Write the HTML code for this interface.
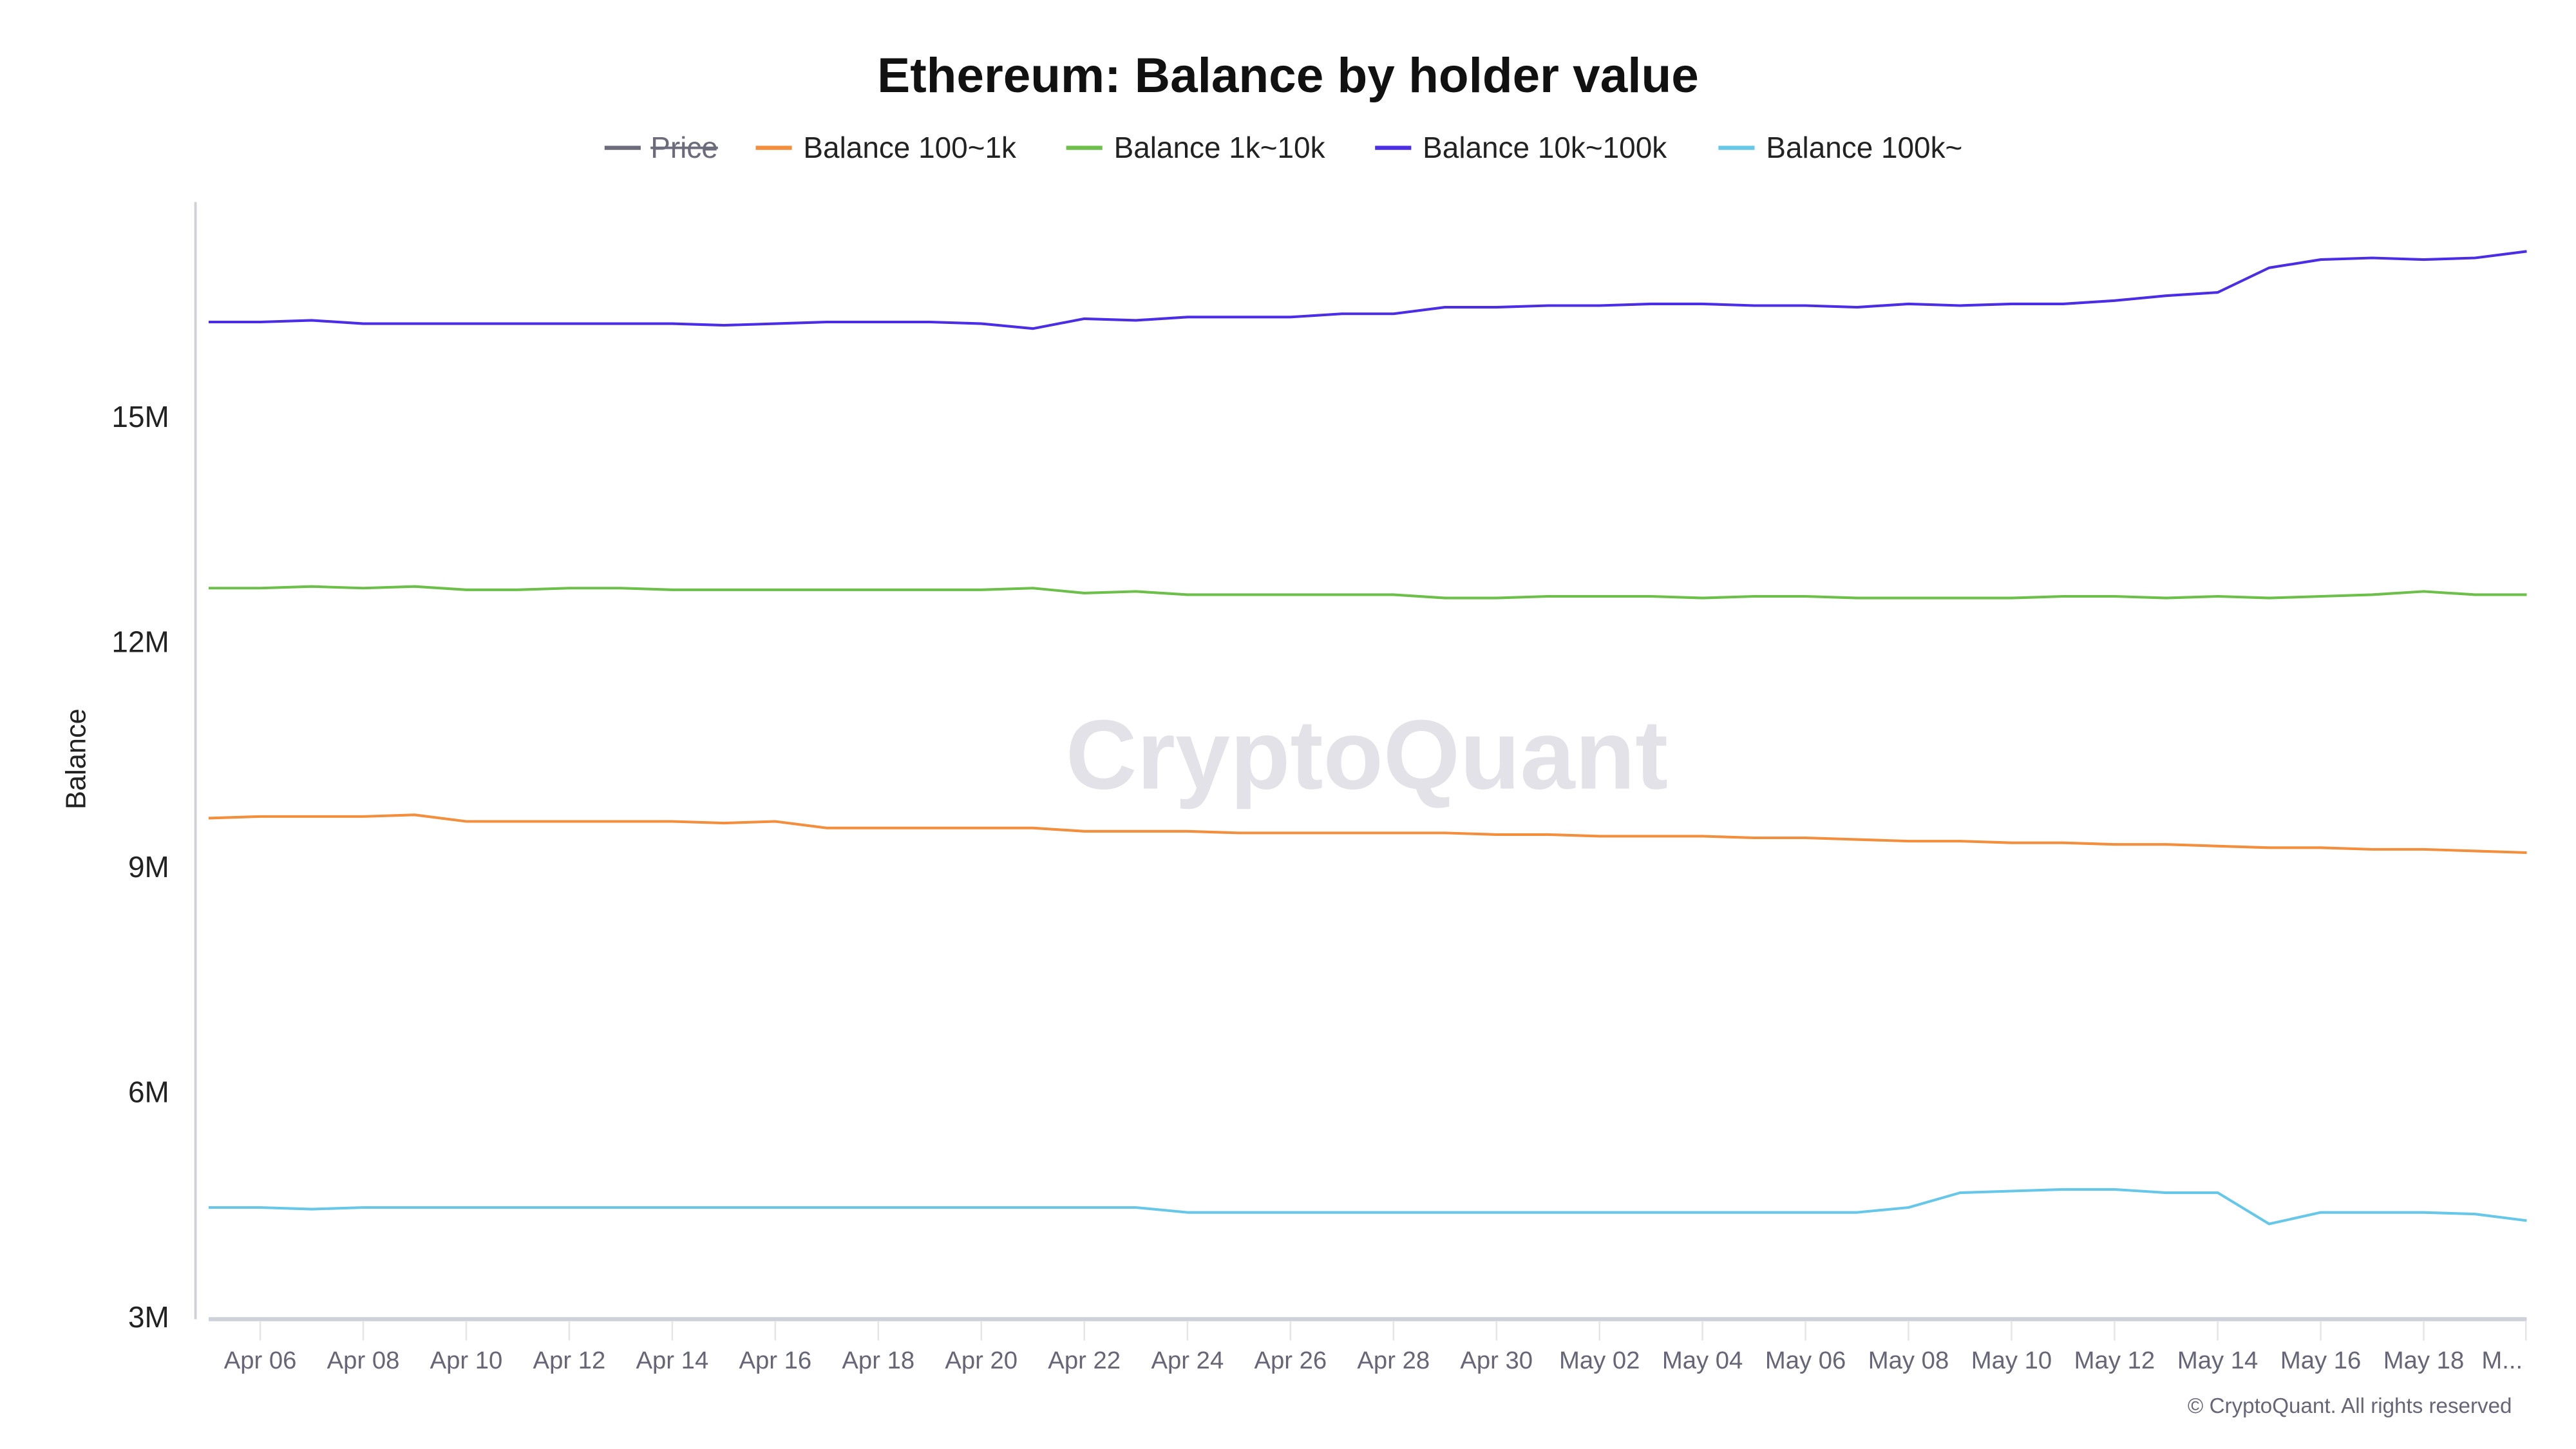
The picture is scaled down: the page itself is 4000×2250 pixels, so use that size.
<!DOCTYPE html>
<html><head><meta charset="utf-8"><style>
html,body{margin:0;padding:0;background:#fff;}
svg{display:block;}
</style></head><body>
<svg width="4000" height="2250" viewBox="0 0 1568 882" xmlns="http://www.w3.org/2000/svg" font-family="'Liberation Sans', sans-serif">
<rect width="1568" height="882" fill="#fff"/>
<text x="784" y="56" text-anchor="middle" font-size="30" font-weight="bold" fill="#111">Ethereum: Balance by holder value</text>
<g font-size="18" fill="#222">
<line x1="368" y1="90" x2="390" y2="90" stroke="#6b6b7b" stroke-width="2.5"/>
<text x="396" y="96" fill="#6b6b7b">Price</text><line x1="396" y1="90" x2="437" y2="90" stroke="#6b6b7b" stroke-width="1.5"/>
<line x1="460" y1="90" x2="482" y2="90" stroke="#f28e3c" stroke-width="2.5"/>
<text x="489" y="96">Balance 100~1k</text>
<line x1="649" y1="90" x2="671" y2="90" stroke="#6cc04a" stroke-width="2.5"/>
<text x="678" y="96">Balance 1k~10k</text>
<line x1="837" y1="90" x2="859" y2="90" stroke="#4b2de6" stroke-width="2.5"/>
<text x="866" y="96">Balance 10k~100k</text>
<line x1="1046" y1="90" x2="1068" y2="90" stroke="#66c7e8" stroke-width="2.5"/>
<text x="1075" y="96">Balance 100k~</text>
</g>
<text x="832" y="480" text-anchor="middle" font-size="60" fill="#e2e2e8" font-weight="bold">CryptoQuant</text>
<line x1="119" y1="123" x2="119" y2="803" stroke="#d0d0d8" stroke-width="1.5"/>
<line x1="127" y1="803" x2="1538" y2="803" stroke="#d0d0da" stroke-width="2.5"/>
<g font-size="18" fill="#222" text-anchor="end">
<text x="103" y="260">15M</text><text x="103" y="397">12M</text><text x="103" y="534">9M</text><text x="103" y="671">6M</text><text x="103" y="808">3M</text>
</g>
<text transform="translate(52,462) rotate(-90)" text-anchor="middle" font-size="17" fill="#222">Balance</text>
<g stroke="#e6e6ea" stroke-width="1">
<line x1="158.4" x2="158.4" y1="804" y2="816"/><line x1="221.1" x2="221.1" y1="804" y2="816"/><line x1="283.8" x2="283.8" y1="804" y2="816"/><line x1="346.5" x2="346.5" y1="804" y2="816"/><line x1="409.2" x2="409.2" y1="804" y2="816"/><line x1="471.9" x2="471.9" y1="804" y2="816"/><line x1="534.6" x2="534.6" y1="804" y2="816"/><line x1="597.3" x2="597.3" y1="804" y2="816"/><line x1="660" x2="660" y1="804" y2="816"/><line x1="722.8" x2="722.8" y1="804" y2="816"/><line x1="785.5" x2="785.5" y1="804" y2="816"/><line x1="848.2" x2="848.2" y1="804" y2="816"/><line x1="910.9" x2="910.9" y1="804" y2="816"/><line x1="973.6" x2="973.6" y1="804" y2="816"/><line x1="1036.3" x2="1036.3" y1="804" y2="816"/><line x1="1099" x2="1099" y1="804" y2="816"/><line x1="1161.7" x2="1161.7" y1="804" y2="816"/><line x1="1224.4" x2="1224.4" y1="804" y2="816"/><line x1="1287.1" x2="1287.1" y1="804" y2="816"/><line x1="1349.9" x2="1349.9" y1="804" y2="816"/><line x1="1412.6" x2="1412.6" y1="804" y2="816"/><line x1="1475.3" x2="1475.3" y1="804" y2="816"/><line x1="1537.5" x2="1537.5" y1="804" y2="816"/>
</g>
<g font-size="15" fill="#666677" text-anchor="middle">
<text x="158.4" y="833">Apr 06</text><text x="221.1" y="833">Apr 08</text><text x="283.8" y="833">Apr 10</text><text x="346.5" y="833">Apr 12</text><text x="409.2" y="833">Apr 14</text><text x="471.9" y="833">Apr 16</text><text x="534.6" y="833">Apr 18</text><text x="597.3" y="833">Apr 20</text><text x="660" y="833">Apr 22</text><text x="722.8" y="833">Apr 24</text><text x="785.5" y="833">Apr 26</text><text x="848.2" y="833">Apr 28</text><text x="910.9" y="833">Apr 30</text><text x="973.6" y="833">May 02</text><text x="1036.3" y="833">May 04</text><text x="1099" y="833">May 06</text><text x="1161.7" y="833">May 08</text><text x="1224.4" y="833">May 10</text><text x="1287.1" y="833">May 12</text><text x="1349.9" y="833">May 14</text><text x="1412.6" y="833">May 16</text><text x="1475.3" y="833">May 18</text><text x="1523" y="833">M...</text>
</g>
<text x="1529" y="860" text-anchor="end" font-size="13" fill="#666677">© CryptoQuant. All rights reserved</text>
<g fill="none" stroke-width="1.6" stroke-linejoin="round">
<polyline stroke="#4b2de6" points="127,196 158.4,196 189.7,195 221.1,197 252.4,197 283.8,197 315.1,197 346.5,197 377.8,197 409.2,197 440.6,198 471.9,197 503.3,196 534.6,196 566,196 597.3,197 628.7,200 660,194 691.4,195 722.8,193 754.1,193 785.5,193 816.8,191 848.2,191 879.5,187 910.9,187 942.2,186 973.6,186 1004.9,185 1036.3,185 1067.7,186 1099,186 1130.4,187 1161.7,185 1193.1,186 1224.4,185 1255.8,185 1287.1,183 1318.5,180 1349.9,178 1381.2,163 1412.6,158 1443.9,157 1475.3,158 1506.6,157 1538,153"/>
<polyline stroke="#6cc04a" points="127,358 158.4,358 189.7,357 221.1,358 252.4,357 283.8,359 315.1,359 346.5,358 377.8,358 409.2,359 440.6,359 471.9,359 503.3,359 534.6,359 566,359 597.3,359 628.7,358 660,361 691.4,360 722.8,362 754.1,362 785.5,362 816.8,362 848.2,362 879.5,364 910.9,364 942.2,363 973.6,363 1004.9,363 1036.3,364 1067.7,363 1099,363 1130.4,364 1161.7,364 1193.1,364 1224.4,364 1255.8,363 1287.1,363 1318.5,364 1349.9,363 1381.2,364 1412.6,363 1443.9,362 1475.3,360 1506.6,362 1538,362"/>
<polyline stroke="#f28e3c" points="127,498 158.4,497 189.7,497 221.1,497 252.4,496 283.8,500 315.1,500 346.5,500 377.8,500 409.2,500 440.6,501 471.9,500 503.3,504 534.6,504 566,504 597.3,504 628.7,504 660,506 691.4,506 722.8,506 754.1,507 785.5,507 816.8,507 848.2,507 879.5,507 910.9,508 942.2,508 973.6,509 1004.9,509 1036.3,509 1067.7,510 1099,510 1130.4,511 1161.7,512 1193.1,512 1224.4,513 1255.8,513 1287.1,514 1318.5,514 1349.9,515 1381.2,516 1412.6,516 1443.9,517 1475.3,517 1506.6,518 1538,519"/>
<polyline stroke="#66c7e8" points="127,735 158.4,735 189.7,736 221.1,735 252.4,735 283.8,735 315.1,735 346.5,735 377.8,735 409.2,735 440.6,735 471.9,735 503.3,735 534.6,735 566,735 597.3,735 628.7,735 660,735 691.4,735 722.8,738 754.1,738 785.5,738 816.8,738 848.2,738 879.5,738 910.9,738 942.2,738 973.6,738 1004.9,738 1036.3,738 1067.7,738 1099,738 1130.4,738 1161.7,735 1193.1,726 1224.4,725 1255.8,724 1287.1,724 1318.5,726 1349.9,726 1381.2,745 1412.6,738 1443.9,738 1475.3,738 1506.6,739 1538,743"/>
</g>
</svg>
</body></html>
